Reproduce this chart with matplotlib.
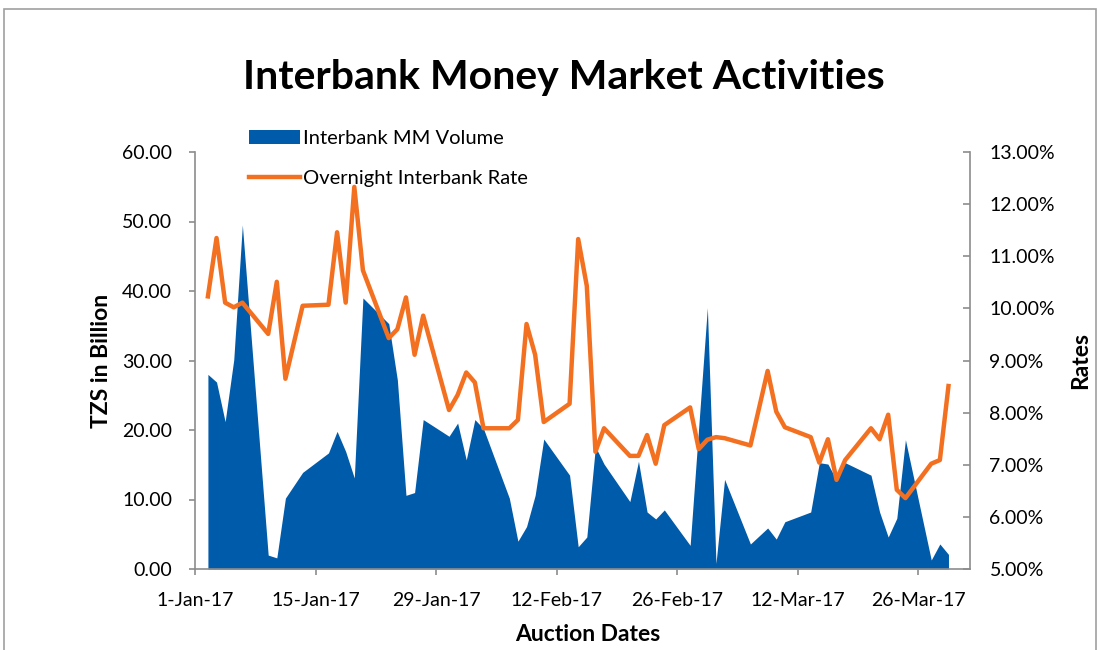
import matplotlib
matplotlib.use("Agg")
import matplotlib.pyplot as plt
from matplotlib.patches import Rectangle, Patch
from matplotlib.lines import Line2D
from matplotlib.ticker import FuncFormatter, MultipleLocator
import pandas as pd

plt.rcParams['font.family'] = ['Lato', 'DejaVu Sans']

# Auction dates (2017)
dates = ["2017-01-02", "2017-01-03", "2017-01-04", "2017-01-05", "2017-01-06",
         "2017-01-09", "2017-01-10", "2017-01-11", "2017-01-13",
         "2017-01-16", "2017-01-17", "2017-01-18", "2017-01-19", "2017-01-20",
         "2017-01-23", "2017-01-24", "2017-01-25", "2017-01-26", "2017-01-27",
         "2017-01-30", "2017-01-31", "2017-02-01", "2017-02-02", "2017-02-03",
         "2017-02-06", "2017-02-07", "2017-02-08", "2017-02-09", "2017-02-10",
         "2017-02-13", "2017-02-14", "2017-02-15", "2017-02-16", "2017-02-17",
         "2017-02-20", "2017-02-21", "2017-02-22", "2017-02-23", "2017-02-24",
         "2017-02-27", "2017-02-28", "2017-03-01", "2017-03-02", "2017-03-03",
         "2017-03-06", "2017-03-08", "2017-03-09", "2017-03-10",
         "2017-03-13", "2017-03-14", "2017-03-15", "2017-03-16", "2017-03-17",
         "2017-03-20", "2017-03-21", "2017-03-22", "2017-03-23", "2017-03-24",
         "2017-03-27", "2017-03-28", "2017-03-29"]

# Interbank MM Volume (TZS billion)
volume = [28.0, 26.9, 21.2, 30.1, 49.5,
          2.0, 1.6, 10.2, 13.9,
          16.7, 19.8, 16.9, 13.1, 39.0,
          35.3, 27.2, 10.6, 11.0, 21.5,
          19.1, 21.0, 15.7, 21.5, 20.2,
          10.2, 4.0, 6.1, 10.6, 18.7,
          13.5, 3.2, 4.6, 17.6, 15.1,
          9.7, 15.5, 8.2, 7.2, 8.5,
          3.4, 20.5, 37.6, 0.8, 12.9,
          3.6, 5.9, 4.3, 6.8,
          8.2, 15.3, 15.1, 12.8, 15.3,
          13.5, 8.2, 4.6, 7.3, 18.6,
          1.3, 3.6, 2.1]

# Overnight Interbank Rate (%)
rate = [10.23, 11.35, 10.11, 10.02, 10.11,
        9.51, 10.51, 8.65, 10.05,
        10.07, 11.46, 10.11, 12.33, 10.73,
        9.43, 9.60, 10.21, 9.11, 9.86,
        8.05, 8.34, 8.77, 8.58, 7.70,
        7.70, 7.86, 9.70, 9.11, 7.82,
        8.17, 11.33, 10.43, 7.25, 7.70,
        7.17, 7.17, 7.57, 7.02, 7.76,
        8.10, 7.30, 7.48, 7.53, 7.51,
        7.37, 8.80, 8.02, 7.72,
        7.53, 7.04, 7.49, 6.71, 7.09,
        7.70, 7.49, 7.96, 6.52, 6.36,
        7.02, 7.09, 8.51]

tick_dates = ["2017-01-01", "2017-01-15", "2017-01-29", "2017-02-12",
              "2017-02-26", "2017-03-12", "2017-03-26"]
tick_labels = ["1-Jan-17", "15-Jan-17", "29-Jan-17", "12-Feb-17",
               "26-Feb-17", "12-Mar-17", "26-Mar-17"]

BLUE = "#005BAA"
ORANGE = "#F37021"
GRAY = "#8C8C8C"

x = pd.to_datetime(dates) + pd.Timedelta(hours=12)

fig = plt.figure(figsize=(10.98, 6.5), dpi=100)
fig.patches.append(Rectangle((4 / 1098, -0.1), 1092 / 1098, 1.1 - 9 / 650,
                             transform=fig.transFigure, fill=False,
                             edgecolor="#A0A0A0", linewidth=1.2))

ax = fig.add_axes([195 / 1098, 1 - 569 / 650, 775 / 1098, 417 / 650])
ax.fill_between(x, volume, 0, color=BLUE, linewidth=0)
ax.set_ylim(0, 60)
ax.set_xlim(pd.Timestamp("2017-01-01"), pd.Timestamp("2017-04-01"))
ax.yaxis.set_major_locator(MultipleLocator(10))
ax.yaxis.set_major_formatter(FuncFormatter(lambda v, p: f"{v:.2f}"))
ax.set_xticks(pd.to_datetime(tick_dates))
ax.set_xticklabels(tick_labels)

ax2 = ax.twinx()
ax2.plot(x, rate, color=ORANGE, linewidth=3.2, solid_joinstyle="round")
ax2.set_ylim(5, 13)
ax2.yaxis.set_major_locator(MultipleLocator(1))
ax2.yaxis.set_major_formatter(FuncFormatter(lambda v, p: f"{v:.2f}%"))

for a in (ax, ax2):
    for s in a.spines.values():
        s.set_visible(False)
ax.spines['left'].set_visible(True)
ax.spines['bottom'].set_visible(True)
ax2.spines['right'].set_visible(True)
for s in (ax.spines['left'], ax.spines['bottom'], ax2.spines['right']):
    s.set_color(GRAY)
    s.set_linewidth(1.2)

ax.tick_params(axis='y', direction='out', length=4.5, color=GRAY, width=1.2,
               labelsize=14, pad=12, labelcolor="black")
ax.tick_params(axis='x', direction='out', length=4.5, color=GRAY, width=1.2,
               labelsize=14, pad=12, labelcolor="black")
ax2.tick_params(axis='y', direction='in', length=5, color=GRAY, width=1.2,
                labelsize=14, pad=14, labelcolor="black")

ax.set_ylabel("TZS in Billion", fontsize=16.5, fontweight="bold")
ax.yaxis.set_label_coords((112 - 195) / 775, 0.5)
ax2.set_ylabel("Rates", fontsize=16.5, fontweight="bold")
ax2.yaxis.set_label_coords((1070 - 195) / 775, 0.5)
ax.set_xlabel("Auction Dates", fontsize=16.5, fontweight="bold")
ax.xaxis.set_label_coords((588 - 195) / 775, (569 - 624) / 417)

fig.text(564 / 1098, 1 - 78 / 650, "Interbank Money Market Activities",
         ha="center", va="center", fontsize=29.5, fontweight="bold")

handles = [Patch(facecolor=BLUE, edgecolor="none"),
           Line2D([0], [0], color=ORANGE, linewidth=3.2)]
labels = ["Interbank MM Volume", "Overnight Interbank Rate"]
leg = fig.legend(handles, labels, loc="upper left",
                 bbox_to_anchor=(249 / 1098, 1 - 130 / 650),
                 frameon=False, fontsize=14.5, handlelength=2.55,
                 handletextpad=0.15, labelspacing=1.15,
                 borderpad=0, borderaxespad=0)

fig.savefig("out.png", dpi=100)
